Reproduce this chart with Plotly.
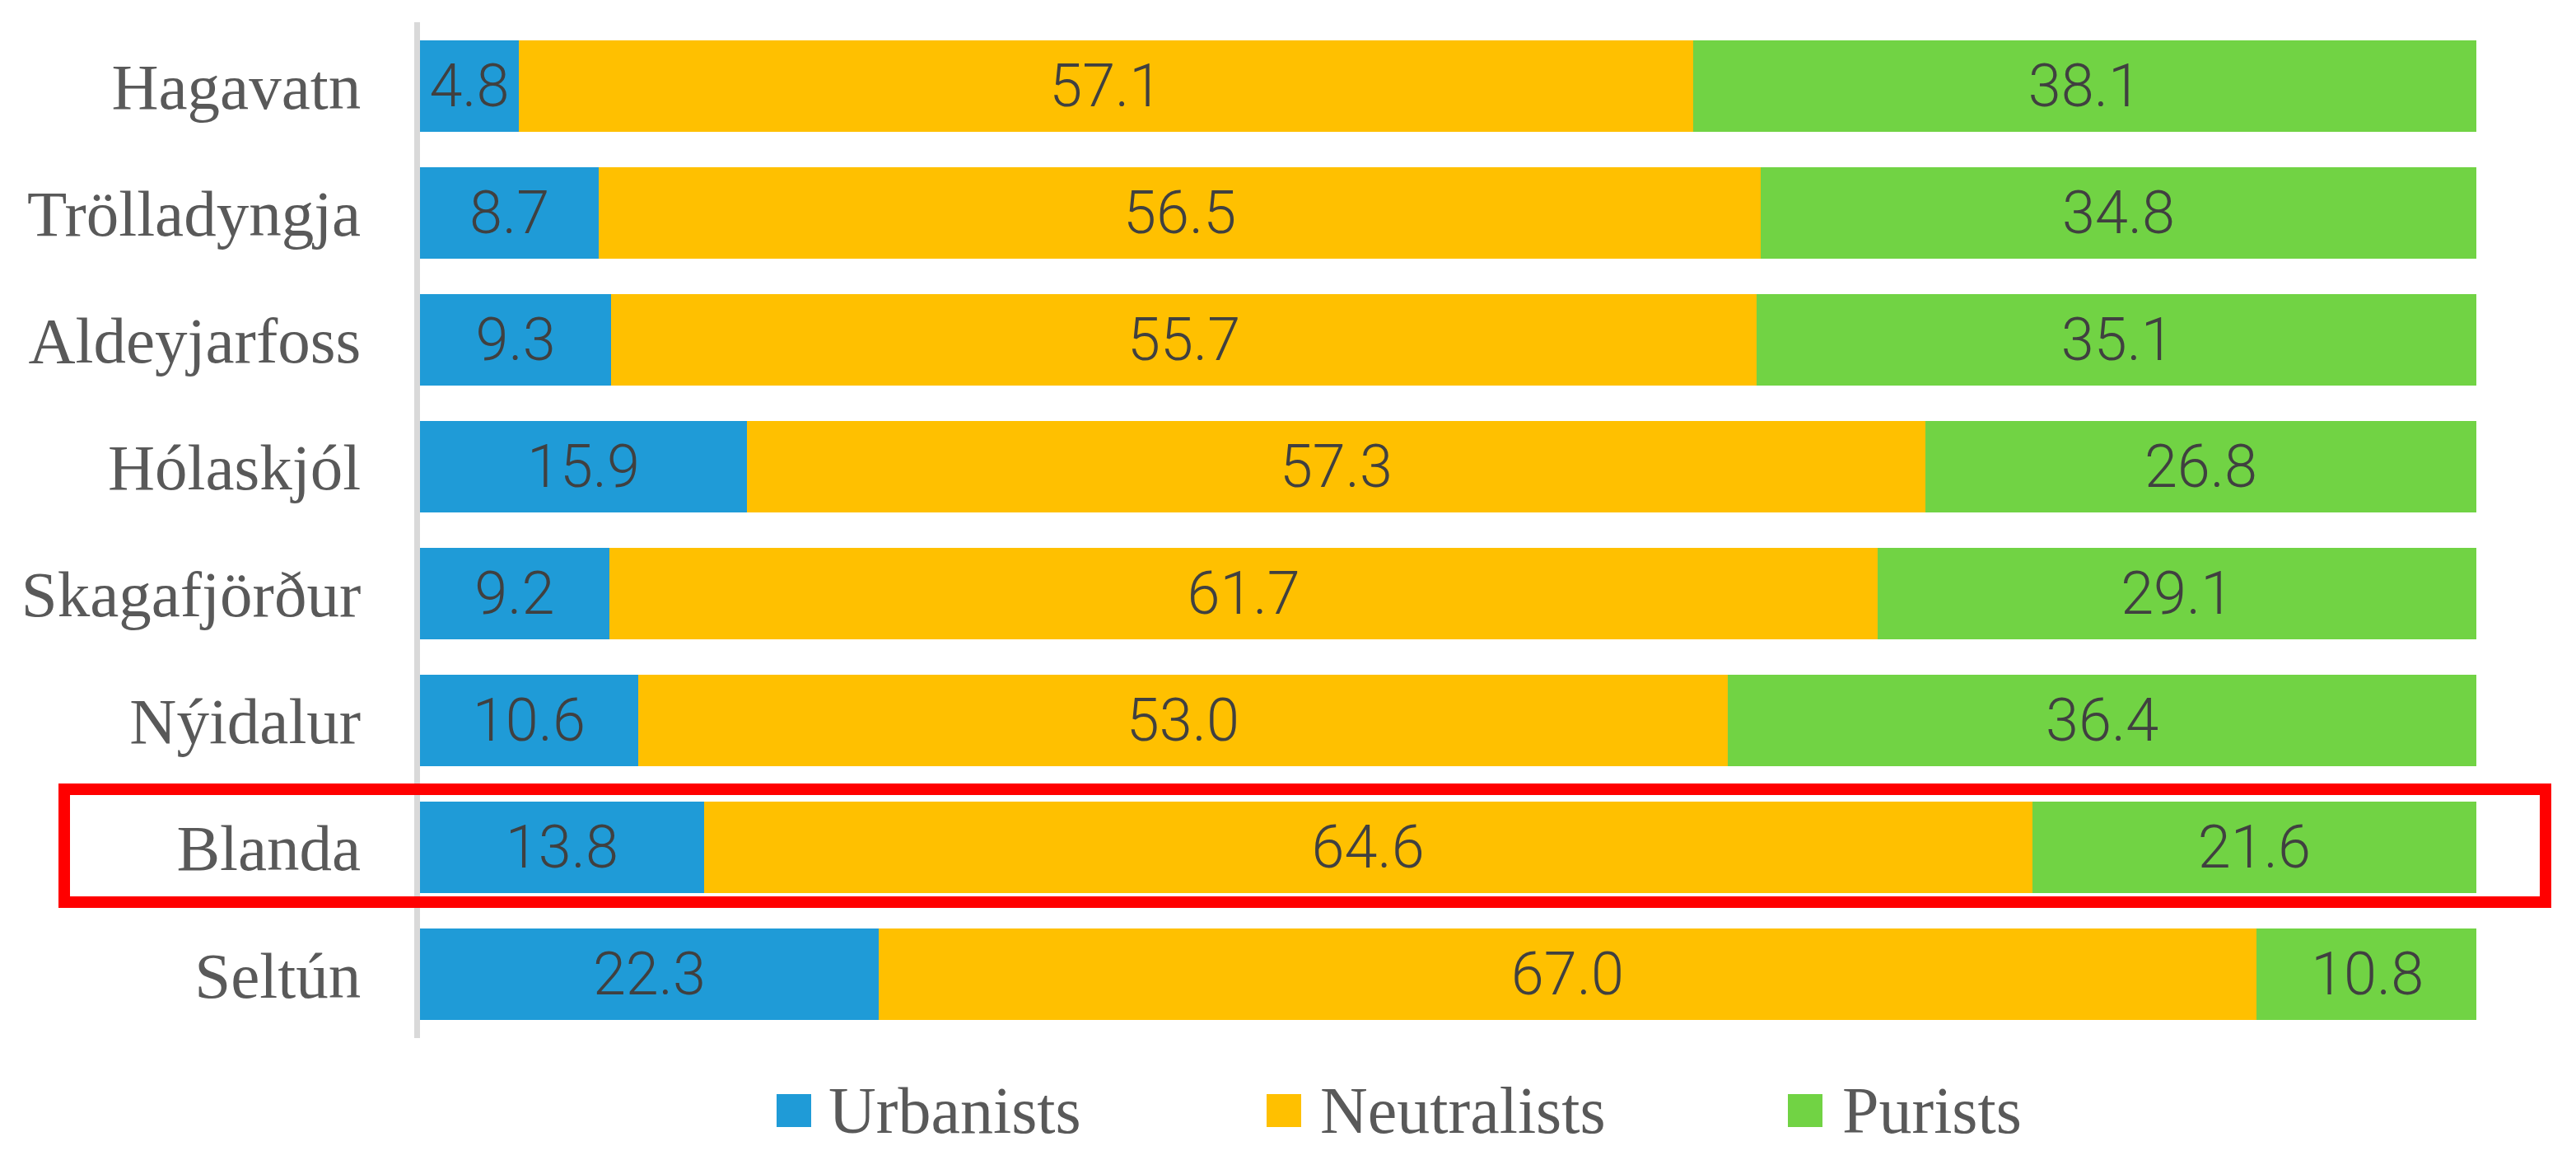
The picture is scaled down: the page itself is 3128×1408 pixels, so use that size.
import plotly.graph_objects as go

categories = ["Hagavatn", "Trölladyngja", "Aldeyjarfoss", "Hólaskjól",
              "Skagafjörður", "Nýidalur", "Blanda", "Seltún"]
urbanists = [4.8, 8.7, 9.3, 15.9, 9.2, 10.6, 13.8, 22.3]
neutralists = [57.1, 56.5, 55.7, 57.3, 61.7, 53.0, 64.6, 67.0]
purists = [38.1, 34.8, 35.1, 26.8, 29.1, 36.4, 21.6, 10.8]
series_names = ["Urbanists", "Neutralists", "Purists"]
colors = ["#1F9BD7", "#FFC000", "#71D344"]
highlight = "Blanda"

# page body has an 8px default margin; compensate so the figure lands at page coords
OFF = 8
W, H = 3128 - OFF, 1408 - OFF
L, R, T, B = 510 - OFF, 121, 27 - OFF, 148
pw, ph = W - L - R, H - T - B

fig = go.Figure()
for name, vals, col in zip(series_names, [urbanists, neutralists, purists], colors):
    fig.add_trace(go.Bar(
        y=categories, x=vals, name=name, orientation="h",
        marker=dict(color=col, line=dict(width=0)),
        text=[f"{v:.1f}" for v in vals], texttemplate="%{text}",
        textposition="inside", insidetextanchor="middle",
        constraintext="none",
        textfont=dict(family="Roboto", weight=300, size=72, color="#404040"),
        showlegend=False, hoverinfo="skip",
    ))

def px_x(p):
    return (p - OFF - L) / pw

def px_y(p):
    return (H - B - (p - OFF)) / ph

shapes = []
annotations = []
# legend (manual, large squares)
leg_sq = [943, 1538, 2171]
leg_tx = [1004, 1601, 2235]
for name, col, sx, tx in zip(series_names, colors, leg_sq, leg_tx):
    shapes.append(dict(type="rect", xref="paper", yref="paper",
                       x0=px_x(sx), x1=px_x(sx + 42), y0=px_y(1368), y1=px_y(1328),
                       fillcolor=col, line=dict(width=0)))
    annotations.append(dict(xref="paper", yref="paper", x=px_x(tx), y=px_y(1348),
                            xanchor="left", yanchor="middle", showarrow=False,
                            text=name, font=dict(family="Liberation Serif", size=80, color="#595959")))

# red highlight box around Blanda row
hi = categories.index(highlight)
shapes.append(dict(type="rect", xref="paper", yref="y",
                   x0=px_x(78), x1=px_x(3091), y0=hi - 0.46, y1=hi + 0.43,
                   line=dict(color="#FF0000", width=14), fillcolor="rgba(0,0,0,0)",
                   layer="above"))

fig.update_layout(
    width=W, height=H, barmode="stack", bargap=0.28,
    margin=dict(l=L, r=R, t=T, b=B, pad=0),
    paper_bgcolor="white", plot_bgcolor="white",
    xaxis=dict(range=[0, 100], visible=False, showgrid=False, zeroline=False),
    yaxis=dict(categoryorder="array", categoryarray=categories, autorange="reversed",
               showline=True, linecolor="#D9D9D9", linewidth=7, showgrid=False,
               ticks="", ticklabelstandoff=49, zeroline=False,
               tickfont=dict(family="Liberation Serif", size=79, color="#595959")),
    shapes=shapes, annotations=annotations,
    uniformtext=dict(mode=False),
)

fig.write_html("out.html")
